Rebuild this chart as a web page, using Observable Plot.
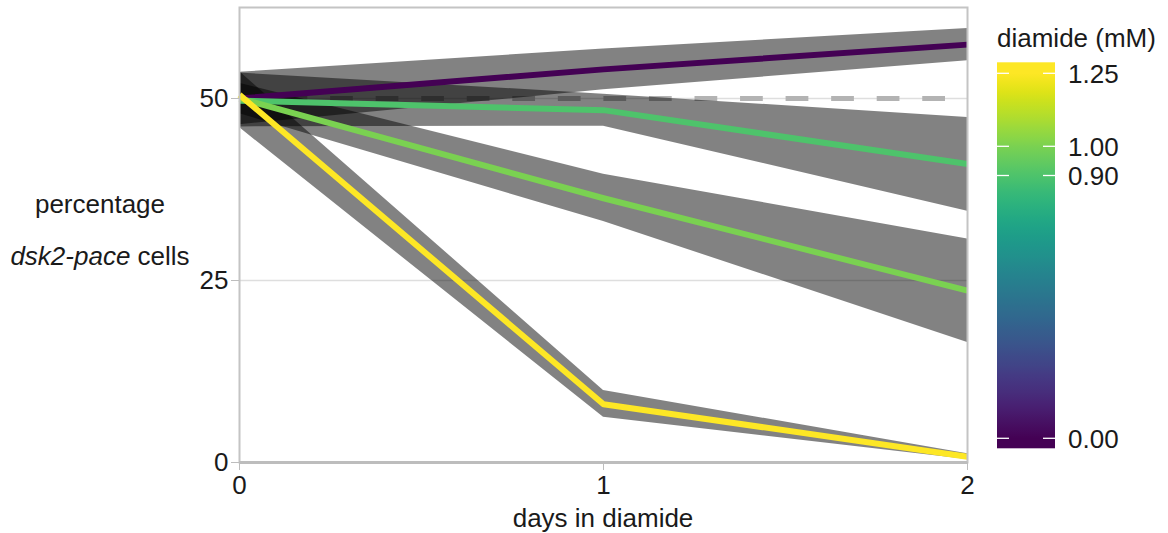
<!DOCTYPE html>
<html><head><meta charset="utf-8">
<script src="https://cdn.jsdelivr.net/npm/d3@7"></script>
<script src="https://cdn.jsdelivr.net/npm/@observablehq/plot@0.6"></script>
<style>body{margin:0;background:#fff} #chart{width:1168px;height:533px}</style>
</head><body><div id="chart"></div>
<script>
// ---- data ----
const days = [0, 1, 2];
const doses = [0, 0.9, 1.0, 1.25];
const mean000 = [50.0, 54.0, 57.4];
const lo000   = [46.4, 51.2, 55.2];
const hi000   = [53.6, 56.8, 59.6];
const mean090 = [49.7, 48.4, 41.0];
const lo090   = [46.1, 46.2, 34.5];
const hi090   = [53.5, 50.6, 47.4];
const mean100 = [50.0, 36.3, 23.6];
const lo100   = [47.9, 33.1, 16.5];
const hi100   = [52.1, 39.6, 30.7];
const mean125 = [50.5, 8.0, 0.8];
const lo125   = [46.0, 6.2, 0.4];
const hi125   = [53.7, 9.9, 1.2];
const referenceLevel = [50];
const yTicks = [0, 25, 50];
const xTicks = [0, 1, 2];
const legendTicks = [0, 0.9, 1.0, 1.25];
const legendLabels = ["0.00", "0.90", "1.00", "1.25"];
const xTitle = "days in diamide";
const legendTitle = "diamide (mM)";

const series = [
  {dose: doses[0], mean: mean000, lo: lo000, hi: hi000},
  {dose: doses[1], mean: mean090, lo: lo090, hi: hi090},
  {dose: doses[2], mean: mean100, lo: lo100, hi: hi100},
  {dose: doses[3], mean: mean125, lo: lo125, hi: hi125}
];
const rows = [];
series.forEach(s => days.forEach((d, i) => rows.push({day: d, dose: s.dose, mean: s.mean[i], lo: s.lo[i], hi: s.hi[i]})));

const FONT = "'Liberation Sans', Arial, Helvetica, sans-serif";
const FS = 26;

const plot = Plot.plot({
  width: 1168, height: 533,
  marginLeft: 239, marginRight: 201, marginTop: 7, marginBottom: 71,
  style: {fontFamily: FONT, fontSize: FS + "px", color: "#1a1a1a", background: "white", overflow: "visible"},
  x: {domain: [0, 2]},
  y: {domain: [0, 62.5]},
  color: {type: "linear", scheme: "viridis", domain: [0, 1.25]},
  marks: [
    Plot.gridY(yTicks.filter(v => v > 0), {stroke: "#dedede", strokeOpacity: 1, strokeWidth: 1.5}),
    Plot.ruleY(referenceLevel, {stroke: "#b3b3b3", strokeWidth: 5, strokeDasharray: "22.75,22.8"}),
    Plot.areaY(rows, {x: "day", y1: "lo", y2: "hi", z: "dose", fill: "black", fillOpacity: 0.49}),
    Plot.lineY(rows, {x: "day", y: "mean", z: "dose", stroke: "dose", strokeWidth: 6, strokeLinecap: "butt", strokeLinejoin: "round"}),
    Plot.frame({stroke: "#c4c4c4", strokeWidth: 2}),
    Plot.ruleY([0], {stroke: "#bdbdbd", strokeWidth: 3}),
    Plot.axisY(yTicks, {tickSize: 8, tickPadding: 3, fontSize: FS, stroke: "#bdbdbd", fill: "#1a1a1a", label: null}),
    Plot.axisX(xTicks, {tickSize: 8, tickPadding: 5, fontSize: FS, stroke: "#bdbdbd", fill: "#1a1a1a", label: null, tickFormat: d => String(d)})
  ]
});
document.getElementById("chart").appendChild(plot);

const svg = d3.select(plot);
// axis titles
svg.append("text").attr("x", 603).attr("y", 527).attr("text-anchor", "middle")
  .attr("font-family", FONT).attr("font-size", FS).attr("fill", "#1a1a1a").text(xTitle);
svg.append("text").attr("x", 100).attr("y", 213).attr("text-anchor", "middle")
  .attr("font-family", FONT).attr("font-size", FS).attr("fill", "#1a1a1a").text("percentage");
const t2 = svg.append("text").attr("x", 100).attr("y", 265).attr("text-anchor", "middle")
  .attr("font-family", FONT).attr("font-size", FS).attr("fill", "#1a1a1a");
t2.append("tspan").attr("font-style", "italic").text("dsk2-pace");
t2.append("tspan").text(" cells");

// colour bar legend using the plot's colour scale
const color = plot.scale("color");
const ly = d3.scaleLinear().domain([0, 1.25]).range([438.3, 73.3]);
const barTop = 62.3, barBottom = 448.3, barX = 997, barW = 58;
const grad = svg.append("defs").append("linearGradient").attr("id", "vbar")
  .attr("x1", 0).attr("y1", 1).attr("x2", 0).attr("y2", 0);
const nStops = 40;
grad.append("stop").attr("offset", 0).attr("stop-color", color.apply(0));
for (let i = 0; i <= nStops; i++) {
  const v = 1.25 * i / nStops;
  const off = (barBottom - ly(v)) / (barBottom - barTop);
  grad.append("stop").attr("offset", off).attr("stop-color", color.apply(v));
}
grad.append("stop").attr("offset", 1).attr("stop-color", color.apply(1.25));
const lg = svg.append("g").attr("text-anchor", "start");
lg.append("rect").attr("x", barX).attr("y", barTop).attr("width", barW).attr("height", barBottom - barTop).attr("fill", "url(#vbar)");
legendTicks.forEach((v, i) => {
  const y = ly(v);
  lg.append("line").attr("x1", barX).attr("x2", barX + 12).attr("y1", y).attr("y2", y).attr("stroke", "white").attr("stroke-width", 1.3);
  lg.append("line").attr("x1", barX + barW - 12).attr("x2", barX + barW).attr("y1", y).attr("y2", y).attr("stroke", "white").attr("stroke-width", 1.3);
  lg.append("text").attr("x", 1068).attr("y", y).attr("dy", "0.36em").attr("text-anchor", "start")
    .attr("font-family", FONT).attr("font-size", FS).attr("fill", "#1a1a1a").text(legendLabels[i]);
});
lg.append("text").attr("x", 997).attr("y", 47).attr("text-anchor", "start")
  .attr("font-family", FONT).attr("font-size", FS).attr("fill", "#1a1a1a").text(legendTitle);
</script>
</body></html>
